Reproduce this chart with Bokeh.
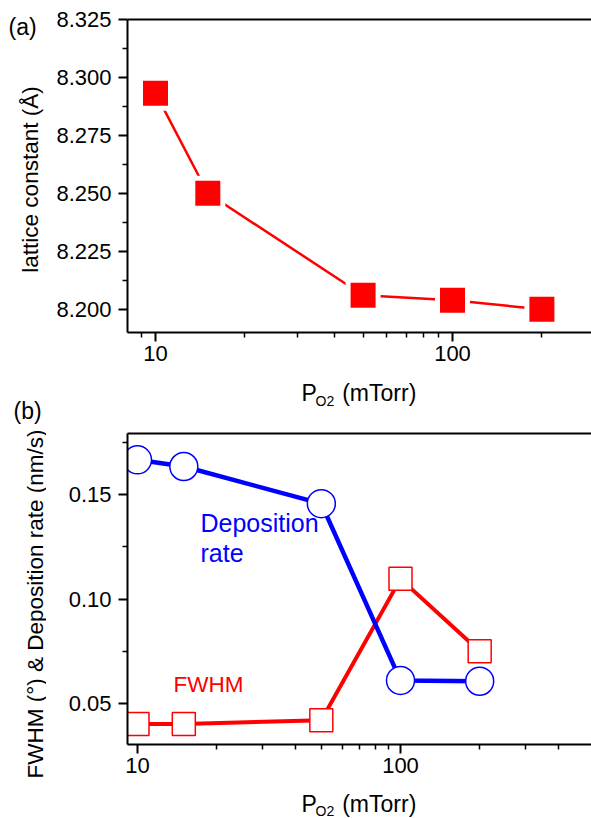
from bokeh.plotting import figure
from bokeh.models import (Label, LogAxis, FixedTicker, PrintfTickFormatter,
                          Range1d)
from bokeh.layouts import column, row
from bokeh.embed import file_html
from bokeh.resources import INLINE

# ---------------- data ----------------
pressure = [10, 15, 50, 100, 200]
lattice = [8.2932, 8.2500, 8.2060, 8.2038, 8.1999]
dep_rate = [0.1667, 0.1635, 0.1457, 0.0611, 0.0607]
fwhm = [0.0402, 0.0402, 0.0420, 0.1097, 0.0750]

x_major = [10, 100]
x_minor = [8, 9, 20, 30, 40, 50, 60, 70, 80, 90, 200, 300, 400]
a_major = [8.200, 8.225, 8.250, 8.275, 8.300, 8.325]
a_minor = [8.2125, 8.2375, 8.2625, 8.2875, 8.3125]
b_major = [0.05, 0.10, 0.15]
b_minor = [0.025, 0.075, 0.125, 0.175]

FONT = "Liberation Sans"
RED = "#ff0000"
BLUE = "#0000ff"
PAGE_W = 591
PAGE_H = 818
STRIP = 46          # width of left text strip
MAIN_W = PAGE_W - STRIP
FRAME_LEFT = 127    # page x of the plot frames' left edge


def style(p, yticks, yminor, yfmt):
    p.outline_line_color = None
    p.xgrid.visible = False
    p.ygrid.visible = False
    p.background_fill_color = "white"
    p.border_fill_color = "white"
    p.xaxis.ticker = FixedTicker(ticks=x_major, minor_ticks=x_minor)
    p.xaxis.formatter = PrintfTickFormatter(format="%d")
    p.yaxis.ticker = FixedTicker(ticks=yticks, minor_ticks=yminor)
    p.yaxis.formatter = PrintfTickFormatter(format=yfmt)
    for ax in (p.xaxis[0], p.yaxis[0]):
        ax.axis_line_width = 2
        ax.axis_line_color = "black"
        ax.major_tick_line_width = 2
        ax.minor_tick_line_width = 1.5
        ax.major_tick_in = 0
        ax.major_tick_out = 9
        ax.minor_tick_in = 0
        ax.minor_tick_out = 5
        ax.major_label_text_font = FONT
        ax.major_label_text_font_size = "22px"
        ax.major_label_text_color = "black"
    p.xaxis.major_label_standoff = 4
    p.yaxis.major_label_standoff = 7
    top = LogAxis(ticker=FixedTicker(ticks=[]), major_label_text_font_size="0px",
                  major_tick_out=0, minor_tick_out=0, major_tick_in=0,
                  minor_tick_in=0, major_label_standoff=0,
                  axis_line_width=2, axis_line_color="black")
    p.add_layout(top, "above")


def lab(p, fb, px, py, text, size, color="black"):
    # in-frame label, positioned relative to the frame's bottom-left corner
    p.add_layout(Label(x=px - FRAME_LEFT, y=fb - py, x_units="screen",
                       y_units="screen", text=text, text_font=FONT,
                       text_font_size=size, text_color=color,
                       text_align="left", text_baseline="alphabetic"))


def text_fig(x0, x1, y0, y1, left_border):
    # a bare figure whose data coordinates are the page's pixel coordinates
    f = figure(width=x1 - x0 + left_border, height=y1 - y0,
               x_range=Range1d(x0, x1), y_range=Range1d(y1, y0),
               x_axis_location=None, y_axis_location=None,
               output_backend="svg", toolbar_location=None,
               min_border_left=left_border, min_border_right=0,
               min_border_top=0, min_border_bottom=0)
    f.outline_line_color = None
    f.grid.visible = False
    f.background_fill_color = "white"
    f.border_fill_color = "white"
    return f


def tlab(f, x, y, text, size, color="black", angle=0, align="left"):
    f.add_layout(Label(x=x, y=y, text=text, text_font=FONT,
                       text_font_size=size, text_color=color,
                       text_align=align, text_baseline="alphabetic",
                       angle=angle, angle_units="deg"))


# ---------------- panel (a): page y 0..370 ----------------
ax0 = 10 ** (1 - 28 / 297)
ax1 = 10 ** (1 + 436 / 297)
p1 = figure(width=MAIN_W, height=370, x_axis_type="log",
            x_range=Range1d(ax0, ax1), y_range=Range1d(8.1899, 8.325),
            output_backend="svg", toolbar_location=None,
            min_border_left=FRAME_LEFT - STRIP, min_border_right=0,
            min_border_top=19, min_border_bottom=38)
style(p1, a_major, a_minor, "%.3f")
p1.line(pressure, lattice, line_color=RED, line_width=2.5)
p1.scatter(pressure, lattice, marker="square", size=35, fill_color="white",
           line_color=None)
p1.scatter(pressure, lattice, marker="square", size=25, fill_color=RED,
           line_color=None)

# x title of (a): page y 370..418
t1 = text_fig(FRAME_LEFT, PAGE_W, 370, 418, FRAME_LEFT - STRIP)
tlab(t1, 301, 392, "P", "23px")
tlab(t1, 315, 400, "O2", "14px")
tlab(t1, 341.7, 392, "(mTorr)", "23px")

# ---------------- panel (b): page y 418..783 ----------------
bx0 = 10 ** (1 - 10 / 263)
bx1 = 10 ** (1 + 454 / 263)
p2 = figure(width=MAIN_W, height=365, x_axis_type="log",
            x_range=Range1d(bx0, bx1), y_range=Range1d(0.0304, 0.1793),
            output_backend="svg", toolbar_location=None,
            min_border_left=FRAME_LEFT - STRIP, min_border_right=0,
            min_border_top=15, min_border_bottom=39)
style(p2, b_major, b_minor, "%.2f")
p2.line(pressure, fwhm, line_color=RED, line_width=4)
p2.line(pressure, dep_rate, line_color=BLUE, line_width=4.5)
p2.scatter(pressure, dep_rate, marker="circle", size=28, fill_color="white",
           line_color=BLUE, line_width=1.5)
p2.scatter(pressure, fwhm, marker="square", size=23, fill_color="white",
           line_color=RED, line_width=1.5)

FB2 = 748.3
lab(p2, FB2, 200, 526.7, "Deposition", "25px", color=BLUE)
lab(p2, FB2, 200, 556.7, "rate", "25px", color=BLUE)
lab(p2, FB2, 173, 688.3, "FWHM", "22.5px", color=RED)

# x title of (b): page y 783..818
t2 = text_fig(FRAME_LEFT, PAGE_W, 783, PAGE_H, FRAME_LEFT - STRIP)
tlab(t2, 301, 803, "P", "23px")
tlab(t2, 315, 810, "O2", "14px")
tlab(t2, 341.7, 803, "(mTorr)", "23px")

# ---------------- left strip: panel letters and y titles ----------------
left = text_fig(0, STRIP, 0, PAGE_H, 0)
tlab(left, 8, 26.9, "(a)", "23px")
tlab(left, 13, 410, "(b)", "23px")
tlab(left, 29.5, 179, "lattice constant (Å)", "22.5px", angle=90,
     align="center")
tlab(left, 35, 603.5, "FWHM (°) & Deposition rate (nm/s)", "22.5px",
     angle=90, align="center")

layout = row(left, column(p1, t1, p2, t2))
open("out.html", "w").write(file_html(layout, INLINE))
